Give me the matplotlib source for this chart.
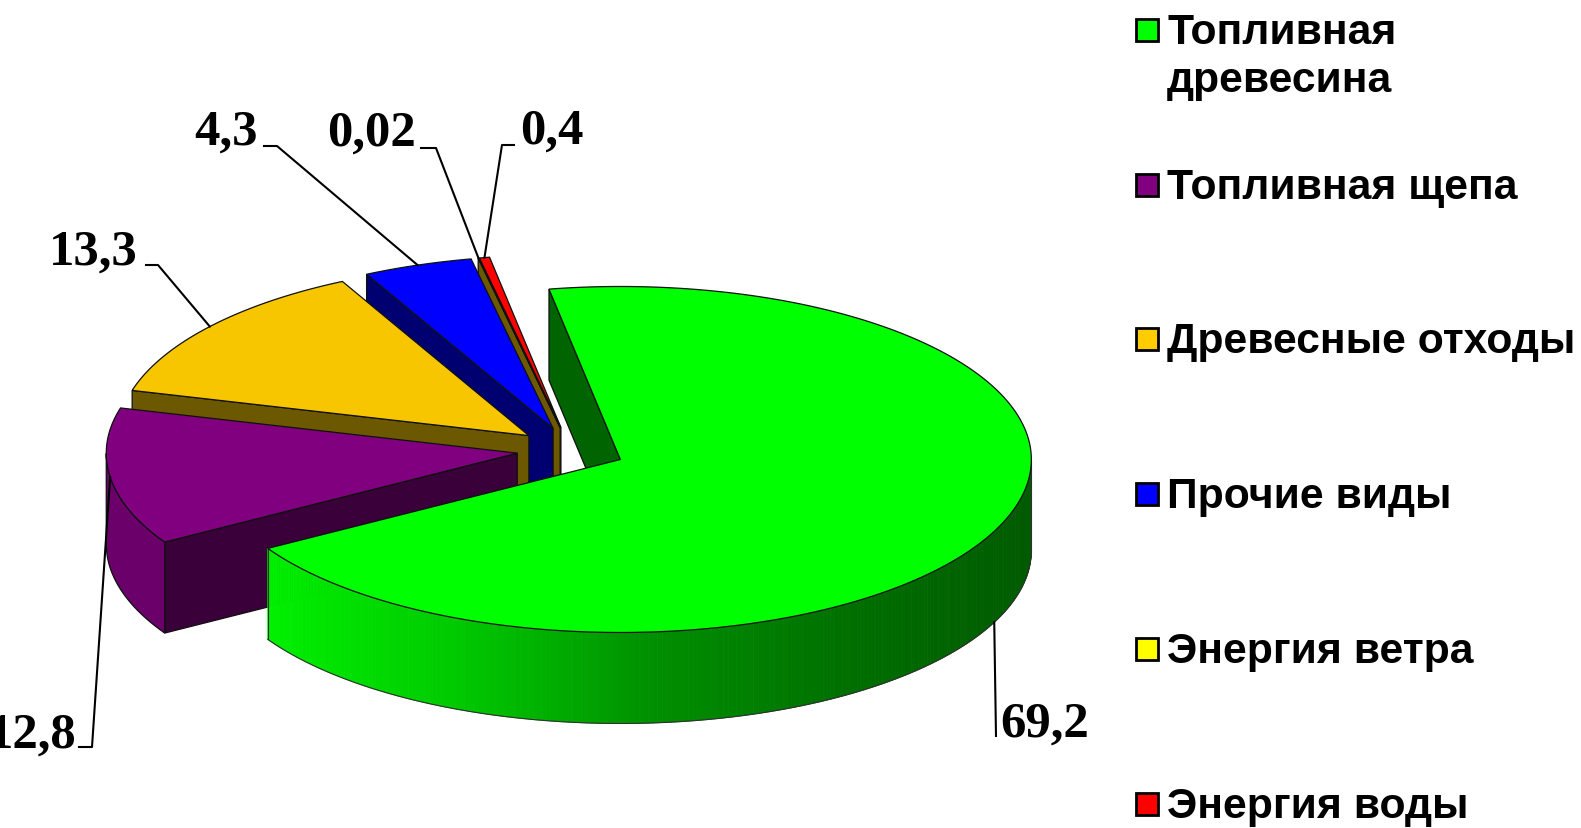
import numpy as np
import matplotlib
matplotlib.use('Agg')
import matplotlib.pyplot as plt
from matplotlib.colors import LinearSegmentedColormap
from matplotlib.patches import Rectangle

# Shares in percent, pie runs clockwise in this order
names = ['Топливная\nдревесина', 'Топливная щепа', 'Древесные отходы',
         'Прочие виды', 'Энергия ветра', 'Энергия воды']
values = [69.2, 12.8, 13.3, 4.3, 0.02, 0.4]
value_labels = ['69,2', '12,8', '13,3', '4,3', '0,02', '0,4']

top_colors = ['#00FF00', '#800080', '#F8C600', '#0000FF', '#FFFF00', '#FF0000']
legend_colors = ['#00FF00', '#800080', '#FFCC00', '#0000FF', '#FFFF00', '#FF0000']
wall_colors = ['#006400', '#3A003A', '#6B5800', '#000070', '#6B5800', '#700000']
rim_colors = ['#00A000', '#6B006B', '#6B5800', '#000070', '#6B5800', '#700000']

# Pie geometry, in pixels
CX, CY = 571, 451
RX, RY = 411, 173
DEPTH = 91
EXPLODE = 0.132
START_ANGLE = 100

# Label text position and the elbow of its leader line
label_pos = [(1000, 725, 'left'), (76, 736, 'right'), (138, 253, 'right'),
             (258, 133, 'right'), (416, 134, 'right'), (520, 132, 'left')]
elbows = [[(996, 737)], [(79, 748), (92, 748)], [(146, 266), (158, 266)],
          [(264, 147), (277, 147)], [(421, 149), (436, 149)], [(514, 146), (502, 146)]]

green_rim = LinearSegmentedColormap.from_list(
    'green_rim', ['#00F000', '#00C800', '#009000', '#007000', '#005A00'])


def ellipse(cx, cy, t):
    return cx + RX * np.cos(t), cy - RY * np.sin(t)


fig = plt.figure(figsize=(15.81, 8.29), dpi=100)
ax = fig.add_axes([0, 0, 1, 1])
ax.set_xlim(0, 1581)
ax.set_ylim(829, 0)
ax.axis('off')

total = sum(values)
sweeps = [v / total * 360 for v in values]
starts = START_ANGLE - np.cumsum([0] + sweeps[:-1])
ends = starts - np.array(sweeps)
mids = (starts + ends) / 2

# Back slices first so the nearer ones cover them
edge = dict(edgecolor='#101010', linewidth=0.9)
for i in [5, 4, 3, 2, 1, 0]:
    mid = np.radians(mids[i])
    ax_x = CX + EXPLODE * RX * np.cos(mid)
    ax_y = CY - EXPLODE * RY * np.sin(mid)

    # cut wall at the start edge of the slice
    x0, y0 = ellipse(ax_x, ax_y, np.radians(starts[i]))
    ax.fill([ax_x, x0, x0, ax_x], [ax_y, y0, y0 + DEPTH, ax_y + DEPTH],
            facecolor=wall_colors[i], zorder=i * -3 + 20, **edge)

    # outer rim, only the part on the near half of the ellipse
    t = np.radians(np.linspace(ends[i], starts[i], 400))
    t = t[np.sin(t) <= 0]
    if len(t) > 1:
        x, y = ellipse(ax_x, ax_y, t)
        if i == 0:
            shade = (x - x.min()) / (x.max() - x.min())
            for k in range(len(t) - 1):
                c = green_rim(shade[k])
                ax.fill([x[k], x[k + 1], x[k + 1], x[k]],
                        [y[k], y[k + 1], y[k + 1] + DEPTH, y[k] + DEPTH],
                        facecolor=c, edgecolor=c, linewidth=0.6,
                        zorder=i * -3 + 21)
            ax.plot(x, y + DEPTH, color='#303030', lw=0.8, zorder=i * -3 + 21)
            ax.plot([x[-1], x[-1]], [y[-1], y[-1] + DEPTH], color='#303030',
                    lw=0.8, zorder=i * -3 + 21)
            ax.plot([x[0], x[0]], [y[0], y[0] + DEPTH], color='#303030',
                    lw=0.8, zorder=i * -3 + 21)
        else:
            ax.fill(np.r_[x, x[::-1]], np.r_[y, y[::-1] + DEPTH],
                    facecolor=rim_colors[i], zorder=i * -3 + 21, **edge)

    # top face
    x, y = ellipse(ax_x, ax_y, np.radians(np.linspace(starts[i], ends[i], 400)))
    ax.fill(np.r_[ax_x, x], np.r_[ax_y, y], facecolor=top_colors[i],
            zorder=i * -3 + 22, **edge)

    # leader line from the label to the rim at the middle of the slice
    lx, ly = ellipse(ax_x, ax_y, mid)
    if i == 0:
        ly += DEPTH
    px = [p[0] for p in elbows[i]] + [lx]
    py = [p[1] for p in elbows[i]] + [ly]
    ax.plot(px, py, color='black', lw=1.5, zorder=40)

    tx, ty, ha = label_pos[i]
    ax.text(tx, ty, value_labels[i], ha=ha, va='center',
            family='Liberation Serif', weight='bold', fontsize=36.5, zorder=41)

# Legend
legend_y = [31, 186, 340, 495, 650, 805]
for name, color, ly in zip(names, legend_colors, legend_y):
    ax.add_patch(Rectangle((1136, ly - 11), 22, 22, facecolor=color,
                           edgecolor='black', linewidth=2))
    lines = name.split('\n')
    for j, line in enumerate(lines):
        ax.text(1167, ly + 2 + j * 48, line, ha='left', va='center',
                family='Liberation Sans', weight='bold', fontsize=30.7)

fig.savefig('out.png', dpi=100)
